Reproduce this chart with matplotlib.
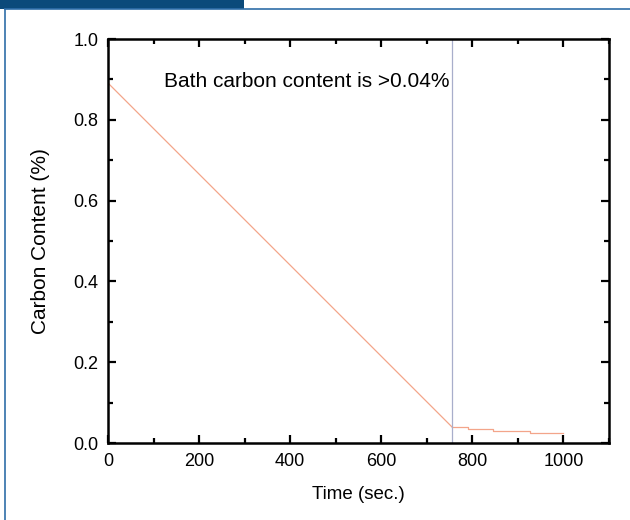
import matplotlib
matplotlib.use("Agg")
import matplotlib.pyplot as plt
from matplotlib.patches import Rectangle
from matplotlib.ticker import MultipleLocator

plt.rcParams['font.family'] = ['Liberation Sans', 'DejaVu Sans']

# Main decarburization line (seconds, %C)
time_main = [0, 755]
carbon_main = [0.891, 0.040]
# Tail steps after the bath carbon reaches ~0.04%
time_tail = [755, 791, 846, 927, 1000]
carbon_tail = [0.040, 0.034, 0.030, 0.024, 0.024]
threshold_time = 755
annotation = "Bath carbon content is >0.04%"
x_ticks = [0, 200, 400, 600, 800, 1000]
y_ticks = [0.0, 0.2, 0.4, 0.6, 0.8, 1.0]

fig = plt.figure(figsize=(6.3, 5.2), dpi=100)

# Frame decoration
fig.patches.append(Rectangle((0, 1 - 9/520), 244/630, 9/520, transform=fig.transFigure,
                             facecolor='#0b4a7a', edgecolor='none', zorder=0))
fig.add_artist(plt.Line2D([5/630, 1], [1 - 9/520, 1 - 9/520], transform=fig.transFigure,
                          color='#2f6ea8', lw=1.2))
fig.add_artist(plt.Line2D([5/630, 5/630], [0, 1 - 9/520], transform=fig.transFigure,
                          color='#2f6ea8', lw=1.2))

ax = fig.add_axes([108/630, 1 - 443/520, (609 - 108)/630, (443 - 39)/520])
ax.plot(time_main, carbon_main, color='#f3a58a', lw=0.9)
ax.plot(time_tail, carbon_tail, color='#f3a58a', lw=0.9, drawstyle='steps-post')
ax.axvline(threshold_time, color='#a8aecb', lw=0.9)

ax.set_xlim(0, 1100)
ax.set_ylim(0, 1.0)
ax.set_xticks(x_ticks)
ax.set_xticklabels([f'{v:d}' for v in x_ticks])
ax.set_yticks(y_ticks)
ax.set_yticklabels([f'{v:.1f}' for v in y_ticks])
ax.xaxis.set_minor_locator(MultipleLocator(100))
ax.yaxis.set_minor_locator(MultipleLocator(0.1))
ax.tick_params(which='both', direction='in', top=True, right=True, width=1.6, labelsize=13, pad=7)
ax.tick_params(which='major', length=6)
ax.tick_params(which='minor', length=3.5)
for s in ax.spines.values():
    s.set_linewidth(1.8)

ax.set_xlabel('Time (sec.)', fontsize=13.5, labelpad=12)
ax.set_ylabel('Carbon Content (%)', fontsize=15, labelpad=17)
ax.text(437, 0.894, annotation, ha='center', va='center', fontsize=15)

fig.savefig('out.png', dpi=100)
